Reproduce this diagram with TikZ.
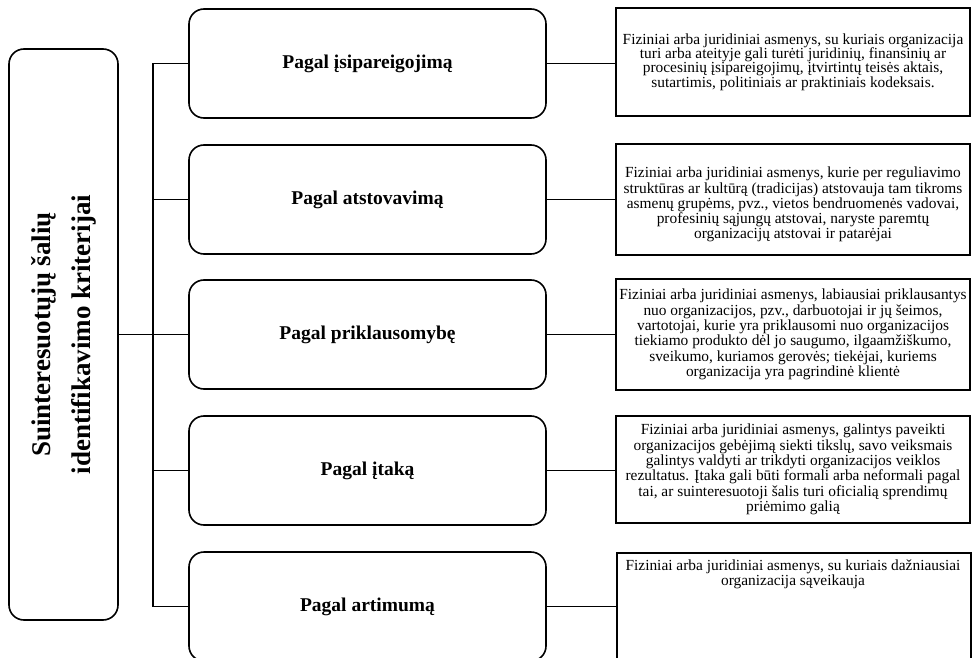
\documentclass[tikz,border=0pt]{standalone}
\usepackage{fontspec}
\setmainfont{Liberation Serif}
\begin{document}
\begin{tikzpicture}[x=1pt,y=-1pt,
  lbox/.style={draw, line width=1.6pt, rounded corners=15pt, minimum width=109pt, minimum height=571pt, inner sep=0pt},
  mbox/.style={draw, line width=1.6pt, rounded corners=15pt, minimum width=357pt, minimum height=109pt, inner sep=0pt,
    font=\fontsize{19.5}{22}\selectfont\bfseries},
  rbox/.style={draw, line width=1.6pt, minimum width=354pt, minimum height=109pt, inner sep=0pt, align=center,
    font=\fontsize{15.4}{15.3}\selectfont},
  rtext/.style={align=center, inner sep=0pt, font=\fontsize{15.4}{14}\selectfont},
  conn/.style={line width=1.6pt}]
\useasboundingbox (0,0) rectangle (972,658);

\node[lbox] (L) at (63.5,334.5) {};
\node[rotate=90, align=center, inner sep=0pt, font=\fontsize{27}{40}\selectfont\bfseries] (Lt) at (L.center)
  {Suinteresuotųjų šalių\\identifikavimo kriterijai};

\node[mbox] (m1) at (367.5,63.5) {Pagal įsipareigojimą};
\node[mbox] (m2) at (367.5,199.5) {Pagal atstovavimą};
\node[mbox] (m3) at (367.5,334.5) {Pagal priklausomybę};
\node[mbox] (m4) at (367.5,470.5) {Pagal įtaką};
\node[mbox] (m5) at (367.5,606.5) {Pagal artimumą};

\node[rbox, minimum height=108pt, font=\fontsize{15.4}{14.3}\selectfont] (r1) at (793,62)
  {Fiziniai arba juridiniai asmenys, su kuriais organizacija\\
   turi arba ateityje gali turėti juridinių, finansinių ar\\
   procesinių įsipareigojimų, įtvirtintų teisės aktais,\\
   sutartimis, politiniais ar praktiniais kodeksais.};
\node[rbox, minimum height=111pt] (r2) at (793,199.5)
  {\rule{0pt}{21pt}Fiziniai arba juridiniai asmenys, kurie per reguliavimo\\
   struktūras ar kultūrą (tradicijas) atstovauja tam tikroms\\
   asmenų grupėms, pvz., vietos bendruomenės vadovai,\\
   profesinių sąjungų atstovai, naryste paremtų\\
   organizacijų atstovai ir patarėjai};
\node[rbox, minimum height=111pt] (r3) at (793,334.5)
  {Fiziniai arba juridiniai asmenys, labiausiai priklausantys\\
   nuo organizacijos, pzv., darbuotojai ir jų šeimos,\\
   vartotojai, kurie yra priklausomi nuo organizacijos\\
   tiekiamo produkto dėl jo saugumo, ilgaamžiškumo,\\
   sveikumo, kuriamos gerovės; tiekėjai, kuriems\\
   organizacija yra pagrindinė klientė};
\node[rbox, minimum height=107pt] (r4) at (793,469.5)
  {Fiziniai arba juridiniai asmenys, galintys paveikti\\
   organizacijos gebėjimą siekti tikslų, savo veiksmais\\
   galintys valdyti ar trikdyti organizacijos veiklos\\
   rezultatus. Įtaka gali būti formali arba neformali pagal\\
   tai, ar suinteresuotoji šalis turi oficialią sprendimų\\
   priėmimo galią};
\node[rbox, anchor=north west, minimum height=115pt] (r5) at (616,552) {};
\node[rtext] (r5t) at (793,574)
  {Fiziniai arba juridiniai asmenys, su kuriais dažniausiai\\
   organizacija sąveikauja};

% trunk
\draw[conn] (m1.west) -- ++(-35,0) coordinate (ttop);
\draw[conn] (m5.west) -- ++(-35,0) coordinate (tbot);
\draw[conn] (ttop) -- (tbot);
\draw[conn] (m2.west) -- (m2.west -| ttop);
\draw[conn] (m3.west) -- (m3.west -| ttop);
\draw[conn] (m4.west) -- (m4.west -| ttop);
\draw[conn] (L.east) -- (L.east -| ttop);

% to descriptions
\draw[conn] (m1.east) -- (m1.east -| r1.west);
\draw[conn] (m2.east) -- (m2.east -| r2.west);
\draw[conn] (m3.east) -- (m3.east -| r3.west);
\draw[conn] (m4.east) -- (m4.east -| r4.west);
\draw[conn] (m5.east) -- (m5.east -| r5.west);
\end{tikzpicture}
\end{document}
